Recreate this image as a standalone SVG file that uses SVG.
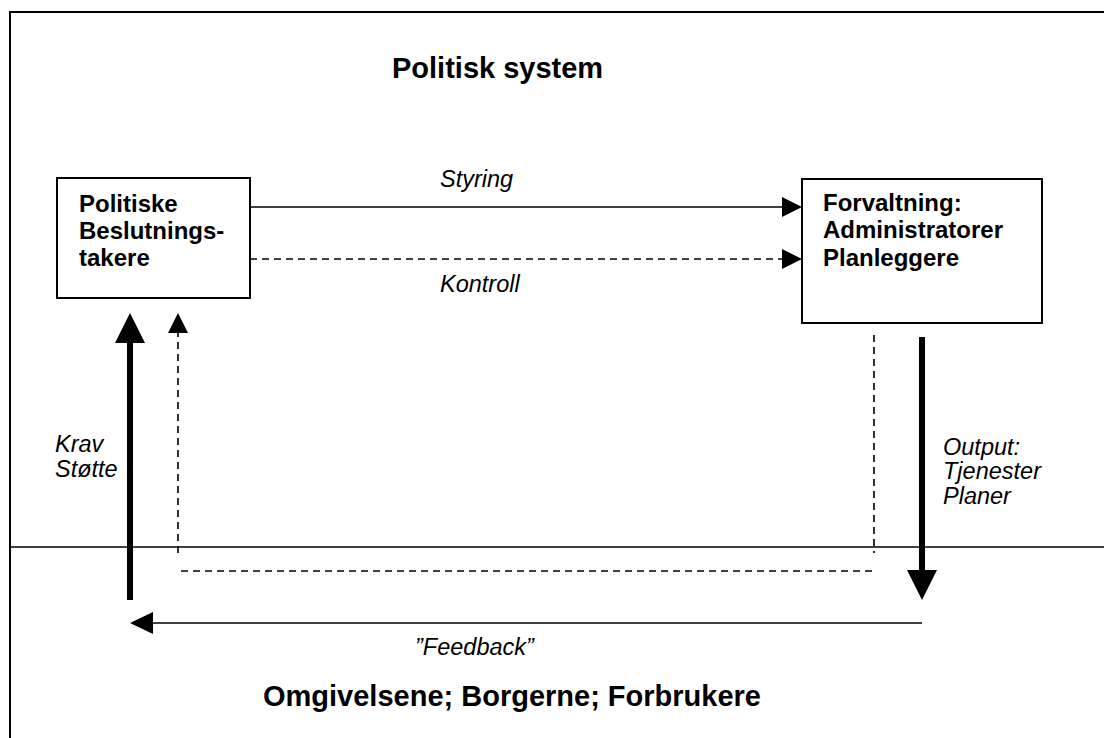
<svg xmlns="http://www.w3.org/2000/svg" width="1104" height="738" viewBox="0 0 1104 738">
  <style>
    .bold { font-family: "Liberation Sans", Arial, sans-serif; font-weight: bold; fill: #000; }
    .ital { font-family: "Liberation Sans", Arial, sans-serif; font-style: italic; fill: #000; font-size: 23.5px; }
    .box { fill: #fff; stroke: #000; stroke-width: 2; }
    .thin { stroke: #000; stroke-width: 1.6; fill: none; }
    .dash { stroke: #000; stroke-width: 1.6; fill: none; stroke-dasharray: 7 5; }
    .thick { stroke: #000; stroke-width: 6; fill: none; }
  </style>
  <defs>
    <marker id="head-sm" viewBox="0 0 20 20" refX="0" refY="10" markerWidth="20" markerHeight="20" markerUnits="userSpaceOnUse" orient="auto">
      <path d="M0,0 L20,10 L0,20 z" fill="#000"/>
    </marker>
    <marker id="head-md" viewBox="0 0 23 22" refX="0" refY="11" markerWidth="23" markerHeight="22" markerUnits="userSpaceOnUse" orient="auto">
      <path d="M0,0 L23,11 L0,22 z" fill="#000"/>
    </marker>
    <marker id="head-lg" viewBox="0 0 30 30" refX="0" refY="15" markerWidth="30" markerHeight="30" markerUnits="userSpaceOnUse" orient="auto">
      <path d="M0,0 L30,15 L0,30 z" fill="#000"/>
    </marker>
  </defs>

  <rect width="1104" height="738" fill="#fff"/>

  <!-- system boundary frame (continues past the right and bottom edges) -->
  <rect x="10" y="12" width="1120" height="760" fill="none" stroke="#000" stroke-width="2"/>
  <!-- boundary between the political system and its environment -->
  <line x1="10" y1="547" x2="1104" y2="547" stroke="#000" stroke-width="1.6"/>

  <text class="bold" x="392" y="78" font-size="29">Politisk system</text>
  <text class="bold" x="263" y="706" font-size="29">Omgivelsene; Borgerne; Forbrukere</text>

  <g id="node-politikere">
    <rect class="box" x="57" y="178" width="193" height="120"/>
    <text class="bold" font-size="24">
      <tspan x="79" y="212">Politiske</tspan>
      <tspan x="79" y="239">Beslutnings-</tspan>
      <tspan x="79" y="266">takere</tspan>
    </text>
  </g>

  <g id="node-forvaltning">
    <rect class="box" x="802" y="179" width="240" height="144"/>
    <text class="bold" font-size="24">
      <tspan x="823" y="211">Forvaltning:</tspan>
      <tspan x="823" y="238">Administratorer</tspan>
      <tspan x="823" y="266">Planleggere</tspan>
    </text>
  </g>

  <g id="connectors">
    <!-- Styring -->
    <line class="thin" x1="250" y1="207" x2="782" y2="207" marker-end="url(#head-sm)"/>
    <!-- Kontroll -->
    <line class="dash" x1="250" y1="259" x2="782" y2="259" marker-end="url(#head-sm)"/>
    <!-- Krav / Støtte -->
    <line class="thick" x1="130" y1="600" x2="130" y2="343" marker-end="url(#head-lg)"/>
    <!-- dashed control loop -->
    <line class="dash" x1="874" y1="335" x2="874" y2="553"/>
    <line class="dash" x1="872" y1="571" x2="178" y2="571"/>
    <line class="dash" x1="178" y1="553" x2="178" y2="333" marker-end="url(#head-sm)"/>
    <!-- Output -->
    <line class="thick" x1="922" y1="337" x2="922" y2="570" marker-end="url(#head-lg)"/>
    <!-- Feedback -->
    <line class="thin" x1="922" y1="623" x2="153" y2="623" stroke-width="2" marker-end="url(#head-md)"/>
  </g>

  <g id="labels">
    <text class="ital" x="440" y="187">Styring</text>
    <text class="ital" x="440" y="292">Kontroll</text>
    <text class="ital">
      <tspan x="55" y="452">Krav</tspan>
      <tspan x="55" y="477">Støtte</tspan>
    </text>
    <text class="ital">
      <tspan x="943" y="455">Output:</tspan>
      <tspan x="943" y="479">Tjenester</tspan>
      <tspan x="943" y="504">Planer</tspan>
    </text>
    <text class="ital" x="415" y="655">”Feedback”</text>
  </g>
</svg>
